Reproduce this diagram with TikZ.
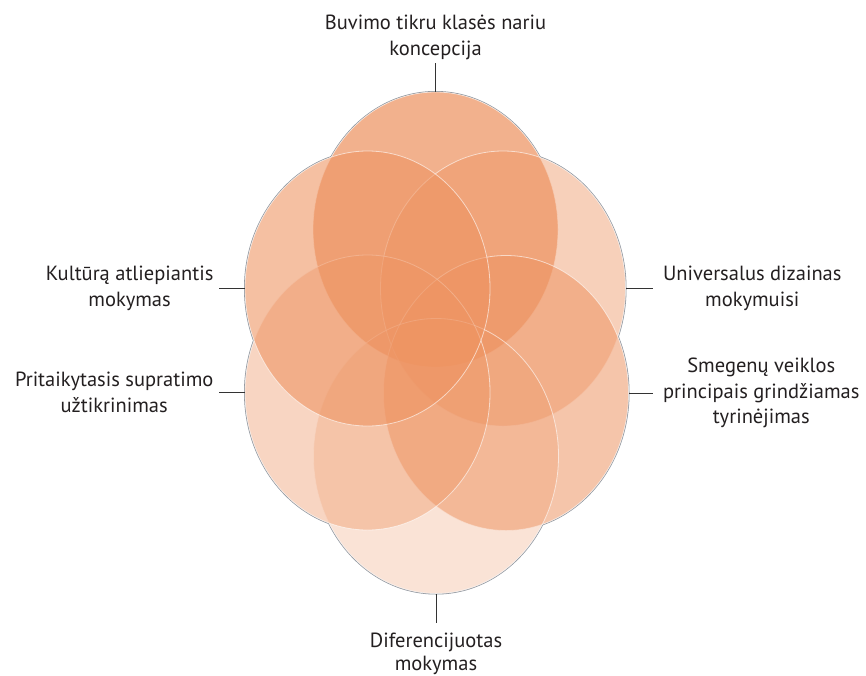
\documentclass[tikz,border=0pt]{standalone}
\usepackage{fontspec}
\setmainfont{PT Sans}
\usetikzlibrary{shapes.geometric}
\definecolor{vennbase}{RGB}{238,148,98}
\definecolor{rimgray}{RGB}{140,146,154}
\definecolor{txt}{RGB}{35,31,32}
\begin{document}
\begin{tikzpicture}[x=1pt,y=-1pt,
  venn/.style={ellipse, minimum width=245pt, minimum height=275pt, inner sep=0pt,
    fill=vennbase, draw=white, draw opacity=0.6, line width=0.8pt},
  rim/.style={draw=rimgray, line width=2pt},
  blank/.style={fill=white},
  lbl/.style={align=center, font=\fontsize{20.5}{25.5}\selectfont, text=txt, inner sep=3pt},
  tick/.style={draw=black!80, line width=0.9pt}]
\useasboundingbox (0,0) rectangle (866,675);
% centres
\coordinate (ctop) at (435.5,229.5);
\coordinate (cul)  at (367.5,288.5);
\coordinate (cur)  at (503,288.5);
\coordinate (cll)  at (367.5,392.5);
\coordinate (clr)  at (506,393);
\coordinate (cbot) at (436,456);
% grey rims, whose inner half is then covered with white
\foreach \c in {ctop,cul,cur,cll,clr,cbot}
  \draw[rim] (\c) ellipse [x radius=122.5pt, y radius=137.5pt];
\foreach \c in {ctop,cul,cur,cll,clr,cbot}
  \fill[blank] (\c) ellipse [x radius=122.5pt, y radius=137.5pt];
% translucent circles
\node[venn, fill opacity=0.72] (top) at (ctop) {};
\node[venn, fill opacity=0.44] (ur)  at (cur)  {};
\node[venn, fill opacity=0.54] (lr)  at (clr)  {};
\node[venn, fill opacity=0.26] (bot) at (cbot) {};
\node[venn, fill opacity=0.39] (ll)  at (cll)  {};
\node[venn, fill opacity=0.59] (ul)  at (cul)  {};
% labels
\node[lbl, anchor=south] (ltop) at ([yshift=29pt]top.north) {Buvimo tikru klasės nariu\\koncepcija};
\node[lbl, anchor=east, inner xsep=5pt] (lul) at ([xshift=-26pt]ul.west) {Kultūrą atliepiantis\\mokymas};
\node[lbl, anchor=east, inner xsep=5pt] (lll) at ([xshift=-26pt]ll.west) {Pritaikytasis supratimo\\užtikrinimas};
\node[lbl, anchor=west, inner xsep=10pt] (lur) at ([xshift=27pt]ur.east) {Universalus dizainas\\mokymuisi};
\node[lbl, anchor=west, inner xsep=10pt] (llr) at ([xshift=24pt]lr.east) {Smegenų veiklos\\principais grindžiamas\\tyrinėjimas};
\node[lbl, anchor=north] (lbot) at ([yshift=-29pt]bot.south) {\rule{0pt}{21.5pt}Diferencijuotas\\[-3pt]mokymas};
% ticks
\draw[tick] (top.north) -- (ltop.south);
\draw[tick] (ul.west) -- (lul.east);
\draw[tick] (ll.west) -- (lll.east);
\draw[tick] (ur.east) -- (lur.west);
\draw[tick] (lr.east) -- (llr.west);
\draw[tick] (bot.south) -- (lbot.north);
\end{tikzpicture}
\end{document}
